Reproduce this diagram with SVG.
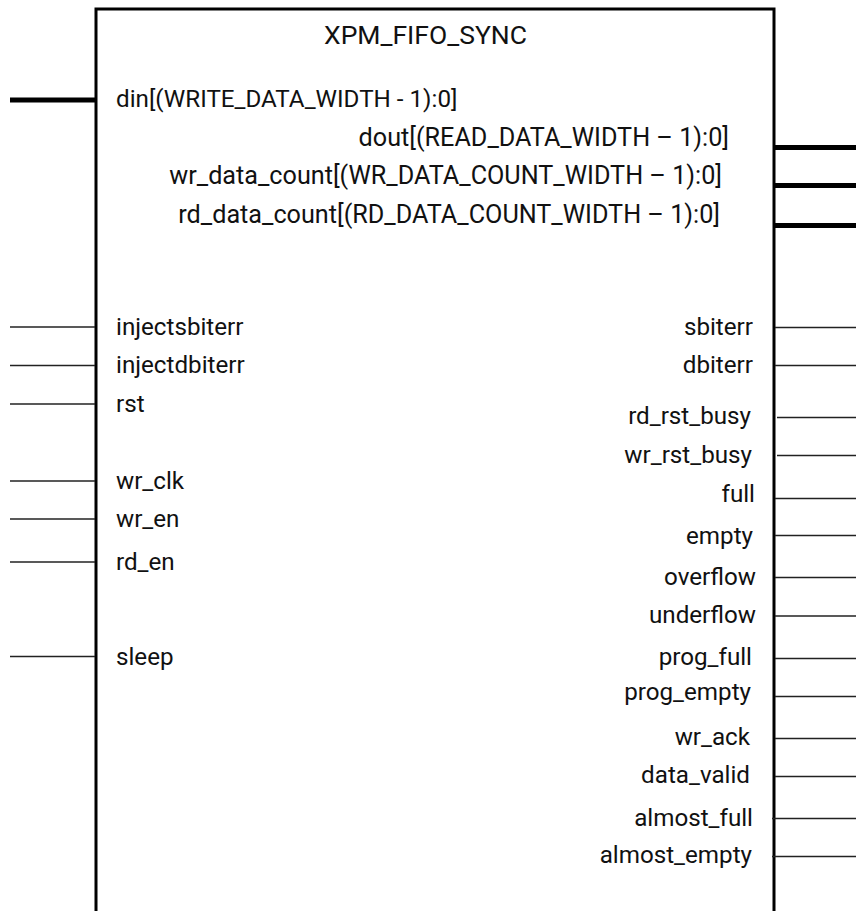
<svg xmlns="http://www.w3.org/2000/svg" width="856" height="911" viewBox="0 0 856 911">
<style>
text{font-family:Roboto,"Liberation Sans",sans-serif;font-size:24.2px;fill:#111}
.t{font-size:26.5px;text-anchor:middle}
.r{text-anchor:end}
.b{font-size:25.2px}
.pin{stroke:#222;stroke-width:1.4}
.bus{stroke:#000;stroke-width:5}
</style>
<rect x="0" y="0" width="856" height="911" fill="#fff"/>
<g id="block">
<path d="M96,911 V9 H774 V911" fill="none" stroke="#000" stroke-width="3"/>
<text class="t" x="425.5" y="43.5">XPM_FIFO_SYNC</text>
</g>
<g id="connectors">
<line class="bus" x1="10" y1="100" x2="95" y2="100"/>
<line class="bus" x1="775" y1="147.5" x2="856" y2="147.5"/>
<line class="bus" x1="775" y1="185.5" x2="856" y2="185.5"/>
<line class="bus" x1="775" y1="225.5" x2="856" y2="225.5"/>
<line class="pin" x1="10" y1="327" x2="95" y2="327"/>
<line class="pin" x1="10" y1="365.5" x2="95" y2="365.5"/>
<line class="pin" x1="10" y1="404" x2="95" y2="404"/>
<line class="pin" x1="10" y1="481" x2="95" y2="481"/>
<line class="pin" x1="10" y1="519" x2="95" y2="519"/>
<line class="pin" x1="10" y1="562" x2="95" y2="562"/>
<line class="pin" x1="10" y1="656.5" x2="95" y2="656.5"/>
<line class="pin" x1="775" y1="327.5" x2="856" y2="327.5"/>
<line class="pin" x1="775" y1="365.5" x2="856" y2="365.5"/>
<line class="pin" x1="777" y1="417.5" x2="856" y2="417.5"/>
<line class="pin" x1="777" y1="455.5" x2="856" y2="455.5"/>
<line class="pin" x1="775" y1="498.5" x2="856" y2="498.5"/>
<line class="pin" x1="775" y1="535.5" x2="856" y2="535.5"/>
<line class="pin" x1="775" y1="577.5" x2="856" y2="577.5"/>
<line class="pin" x1="775" y1="616" x2="856" y2="616"/>
<line class="pin" x1="775" y1="658.5" x2="856" y2="658.5"/>
<line class="pin" x1="775" y1="696.5" x2="856" y2="696.5"/>
<line class="pin" x1="775" y1="738.5" x2="856" y2="738.5"/>
<line class="pin" x1="775" y1="776.5" x2="856" y2="776.5"/>
<line class="pin" x1="772" y1="818.5" x2="856" y2="818.5"/>
<line class="pin" x1="772" y1="856.5" x2="856" y2="856.5"/>
</g>
<g id="port-din"><text x="116" y="107">din[(WRITE_DATA_WIDTH - 1):0]</text></g>
<g id="port-dout"><text class="r b" x="729" y="146">dout[(READ_DATA_WIDTH – 1):0]</text></g>
<g id="port-wr_data_count"><text class="r b" x="722" y="184">wr_data_count[(WR_DATA_COUNT_WIDTH – 1):0]</text></g>
<g id="port-rd_data_count"><text class="r b" x="720" y="222.5">rd_data_count[(RD_DATA_COUNT_WIDTH – 1):0]</text></g>
<g id="port-injectsbiterr"><text x="116" y="335">injectsbiterr</text></g>
<g id="port-injectdbiterr"><text x="116" y="373">injectdbiterr</text></g>
<g id="port-rst"><text x="116" y="412">rst</text></g>
<g id="port-wr_clk"><text x="116" y="489">wr_clk</text></g>
<g id="port-wr_en"><text x="116" y="527">wr_en</text></g>
<g id="port-rd_en"><text x="116" y="570">rd_en</text></g>
<g id="port-sleep"><text x="116" y="665">sleep</text></g>
<g id="port-sbiterr"><text class="r" x="753" y="335">sbiterr</text></g>
<g id="port-dbiterr"><text class="r" x="753" y="373">dbiterr</text></g>
<g id="port-rd_rst_busy"><text class="r" x="751" y="424">rd_rst_busy</text></g>
<g id="port-wr_rst_busy"><text class="r" x="752" y="463">wr_rst_busy</text></g>
<g id="port-full"><text class="r" x="755" y="502">full</text></g>
<g id="port-empty"><text class="r" x="753" y="544">empty</text></g>
<g id="port-overflow"><text class="r" x="756" y="585">overflow</text></g>
<g id="port-underflow"><text class="r" x="756" y="623">underflow</text></g>
<g id="port-prog_full"><text class="r" x="752" y="665">prog_full</text></g>
<g id="port-prog_empty"><text class="r" x="751" y="700">prog_empty</text></g>
<g id="port-wr_ack"><text class="r" x="750" y="745">wr_ack</text></g>
<g id="port-data_valid"><text class="r" x="750" y="783">data_valid</text></g>
<g id="port-almost_full"><text class="r" x="753" y="826">almost_full</text></g>
<g id="port-almost_empty"><text class="r" x="752" y="863">almost_empty</text></g>
</svg>
